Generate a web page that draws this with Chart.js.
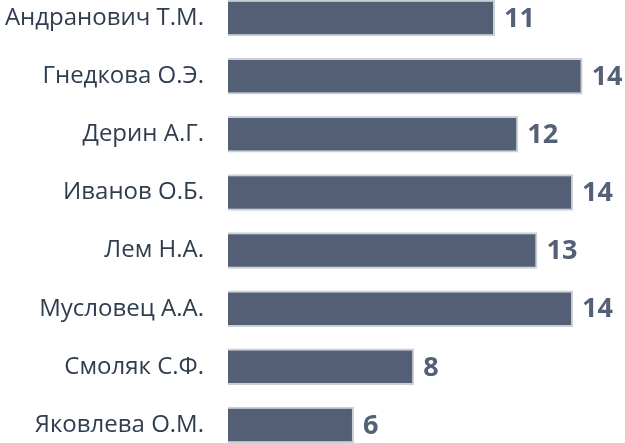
<!DOCTYPE html>
<html>
<head>
<meta charset="utf-8">
<script src="https://cdn.jsdelivr.net/npm/chart.js@4/dist/chart.umd.min.js"></script>
<style>
  html, body { margin: 0; padding: 0; background: #fff; overflow: hidden; }
  #wrap { position: relative; width: 625px; height: 465px; margin-top: -11px; }
</style>
</head>
<body>
<div id="wrap"><canvas id="chart"></canvas></div>
<script>
const names = [
  "Андранович Т.М.",
  "Гнедкова О.Э.",
  "Дерин А.Г.",
  "Иванов О.Б.",
  "Лем Н.А.",
  "Мусловец А.А.",
  "Смоляк С.Ф.",
  "Яковлева О.М.",
];
const scores = [11.25, 14.45, 12.1, 14.1, 12.8, 14.1, 8.3, 6.1];

const BAR = "#525f74";
const EDGE = "#cbd0d8";

const valueLabels = {
  id: "valueLabels",
  afterDatasetsDraw(chart) {
    const ctx = chart.ctx;
    const meta = chart.getDatasetMeta(0);
    ctx.save();
    ctx.font = "bold 27px 'Open Sans'";
    ctx.fillStyle = "#546075";
    ctx.textAlign = "left";
    ctx.textBaseline = "middle";
    meta.data.forEach((bar, i) => {
      ctx.fillText(Math.round(scores[i]), bar.x + 9, bar.y + 1);
    });
    ctx.restore();
  },
};

new Chart(document.getElementById("chart"), {
  type: "bar",
  data: {
    labels: names,
    datasets: [
      {
        data: scores,
        backgroundColor: BAR,
        borderColor: EDGE,
        borderWidth: 2,
        borderSkipped: false,
        barPercentage: 0.63,
        categoryPercentage: 1,
      },
    ],
  },
  options: {
    indexAxis: "y",
    responsive: true,
    maintainAspectRatio: false,
    animation: false,
    layout: { padding: { top: 0, bottom: 0, left: 0, right: 41 } },
    plugins: { legend: { display: false }, tooltip: { enabled: false } },
    scales: {
      x: { display: false, min: 1.5, max: 14.5 },
      y: {
        grid: { display: false, drawTicks: false },
        border: { display: false },
        ticks: {
          padding: 24,
          color: "#2f3d4f",
          font: { family: "'Open Sans'", size: 24 },
        },
        afterFit: (s) => {
          s.width = 228;
          s.paddingTop = 0;
          s.paddingBottom = 0;
        },
      },
    },
  },
  plugins: [valueLabels],
});
</script>
</body>
</html>
